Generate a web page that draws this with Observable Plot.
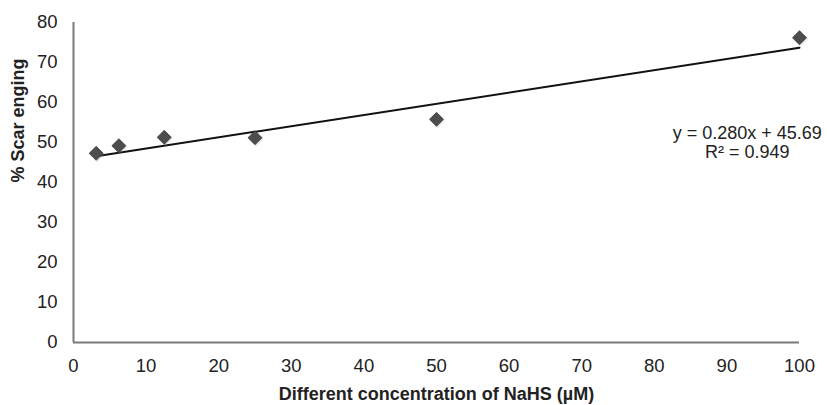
<!DOCTYPE html>
<html>
<head>
<meta charset="utf-8">
<script src="https://cdn.jsdelivr.net/npm/d3@7"></script>
<script src="https://cdn.jsdelivr.net/npm/@observablehq/plot@0.6"></script>
<style>
  html, body { margin: 0; padding: 0; background: #fff; }
  #chart svg { display: block; }
</style>
</head>
<body>
<div id="chart"></div>
<script>
// Data
const concentrations = [3.125, 6.25, 12.5, 25, 50, 100];
const scarHealing = [47.3, 49.2, 51.3, 51.2, 55.8, 76.2];

// Trendline as printed on the chart
const slope = 0.280;
const intercept = 45.69;
const rSquared = 0.949;
const trendX = [3.125, 100];

const xTicks = [0, 10, 20, 30, 40, 50, 60, 70, 80, 90, 100];
const yTicks = [0, 10, 20, 30, 40, 50, 60, 70, 80];

const xTitle = "Different concentration of NaHS (µM)";
const yTitle = "% Scar enging";
const eqLabel = [`y = ${slope.toFixed(3)}x + ${intercept.toFixed(2)}`, `R² = ${rSquared.toFixed(3)}`];
const eqPos = {x: 92.8, y: 50.1};

const points = concentrations.map((c, i) => ({x: c, y: scarHealing[i]}));
const trend = trendX.map(x => ({x, y: slope * x + intercept}));

const font = "'Liberation Sans', Arial, Helvetica, sans-serif";

const chart = Plot.plot({
  width: 827,
  height: 405,
  marginLeft: 73,
  marginRight: 28,
  marginTop: 22,
  marginBottom: 63,
  style: {fontFamily: font, background: "#fff", color: "#222"},
  x: {domain: [0, 100], ticks: xTicks},
  y: {domain: [0, 80], ticks: yTicks},
  marks: [
    Plot.axisX(xTicks, {tickSize: 0, tickPadding: 16, fontSize: 18.5, label: null, fill: "#222"}),
    Plot.axisY(yTicks, {tickSize: 0, tickPadding: 16, fontSize: 18.5, label: null, fill: "#222"}),
    Plot.ruleY([0], {stroke: "#7a7a7a", strokeWidth: 2}),
    Plot.ruleX([0], {stroke: "#7a7a7a", strokeWidth: 2}),
    Plot.line(trend, {x: "x", y: "y", stroke: "#111", strokeWidth: 2}),
    Plot.dot(points, {x: "x", y: "y", symbol: "diamond2", r: 6.8, fill: "#888", dx: 1, dy: 1.5, fillOpacity: 0.2, stroke: "none"}),
    Plot.dot(points, {x: "x", y: "y", symbol: "diamond2", r: 6.3, fill: "#4d4d4d", stroke: "#3a3a3a", strokeWidth: 0.8}),
    Plot.text([eqLabel.join("\n")], {x: () => eqPos.x, y: () => eqPos.y, text: d => d, fontSize: 18, fill: "#222", textAnchor: "middle", lineHeight: 1.11}),
    Plot.text([xTitle], {frameAnchor: "bottom", dy: 57, text: d => d, fontSize: 18, fontWeight: "bold", fill: "#222"}),
    Plot.text([yTitle], {frameAnchor: "left", dx: -55, rotate: -90, text: d => d, fontSize: 18, fontWeight: "bold", fill: "#222"})
  ]
});

document.getElementById("chart").appendChild(chart);
</script>
</body>
</html>
